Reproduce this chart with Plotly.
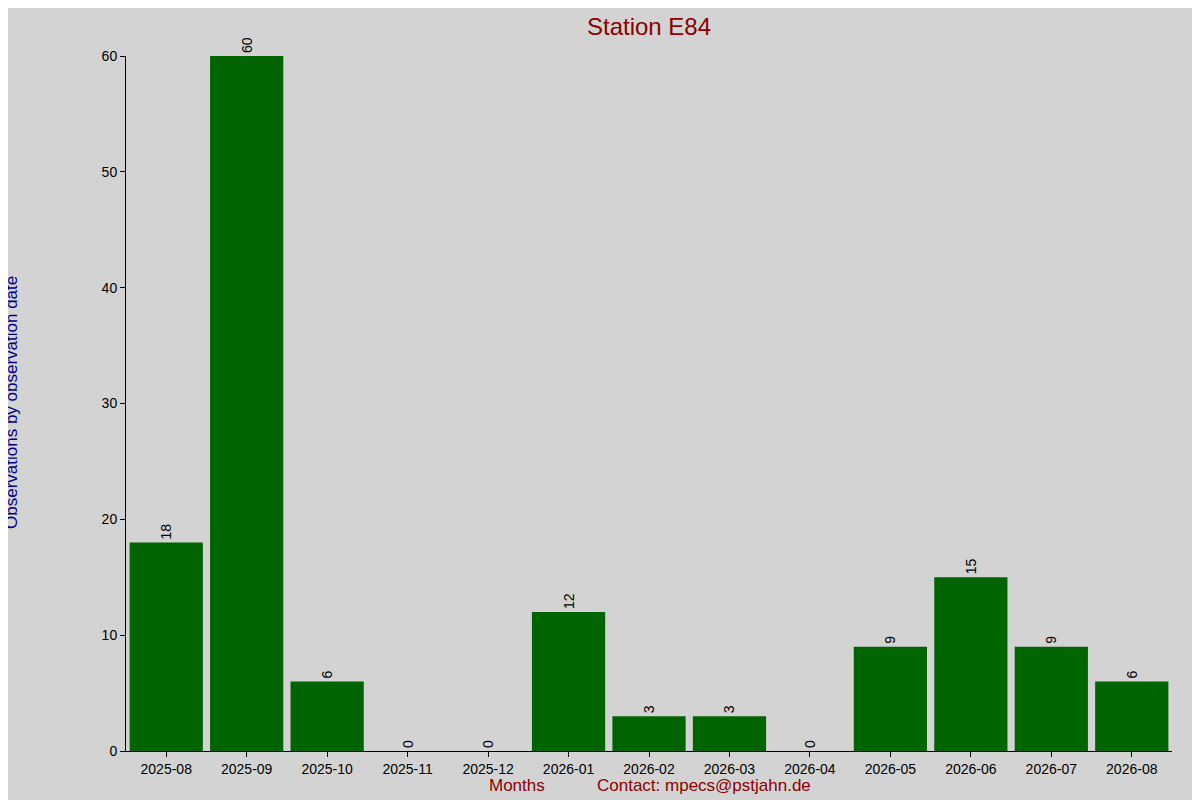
import plotly.graph_objects as go

months = ["2025-08", "2025-09", "2025-10", "2025-11", "2025-12", "2026-01", "2026-02",
          "2026-03", "2026-04", "2026-05", "2026-06", "2026-07", "2026-08"]
counts = [18, 60, 6, 0, 0, 12, 3, 3, 0, 9, 15, 9, 6]

# page is shown with an 8px body margin, so figure coords = page coords - 8
L, R, T, B = 118, 36, 48, 57
pw, ph = 1200 - L - R, 800 - T - B
def px(xp): return (xp - 8 - L) / pw
def py(yp): return (800 - B - (yp - 8)) / ph

fig = go.Figure(go.Bar(
    x=months, y=counts, marker_color="#006400", marker_line_width=0,
    text=[str(c) for c in counts], textposition="outside", textangle=-90,
    textfont=dict(size=14, color="black"), cliponaxis=False,
))

fig.update_layout(
    width=1200, height=800,
    paper_bgcolor="#d3d3d3", plot_bgcolor="#d3d3d3",
    font=dict(family="Liberation Sans, Arial", size=14, color="black"),
    margin=dict(l=L, r=R, t=T, b=B),
    bargap=0.09,
    showlegend=False,
    title=dict(text="Station E84", x=px(649), xref="paper", xanchor="center",
               y=1 - 10 / 800, yanchor="top",
               font=dict(size=24, color="#8b0000")),
    xaxis=dict(type="category", showline=True, linecolor="black", ticks="outside",
               ticklen=5, tickcolor="black", showgrid=False),
    yaxis=dict(range=[0, 60], showline=True, linecolor="black", ticks="outside",
               ticklen=5, tickcolor="black", showgrid=False, zeroline=False,
               dtick=10),
    annotations=[
        dict(text="Months", xref="paper", yref="paper", x=px(517), y=py(786),
             xanchor="center", yanchor="middle", showarrow=False,
             font=dict(size=17, color="#8b0000")),
        dict(text="Contact: mpecs@pstjahn.de", xref="paper", yref="paper",
             x=px(704), y=py(786), xanchor="center", yanchor="middle", showarrow=False,
             font=dict(size=17, color="#8b0000")),
        dict(text="Observations by observation date", xref="paper", yref="paper",
             x=px(11), y=py(403), xanchor="center", yanchor="middle", textangle=-90,
             showarrow=False, font=dict(size=17, color="#00008b")),
    ],
)

fig.write_html("out.html")
